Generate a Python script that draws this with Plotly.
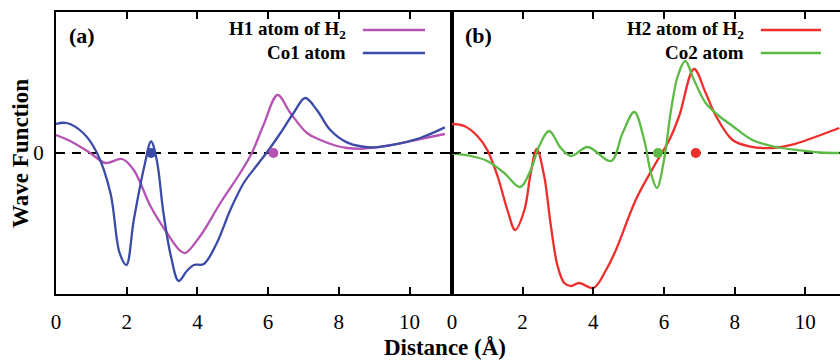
import plotly.graph_objects as go

# ---------------- data ----------------
names = ["H1 atom of H<sub>2</sub>", "Co1 atom", "H2 atom of H<sub>2</sub>", "Co2 atom"]
colors = ["#b553b3", "#3b4ba8", "#ee2e2a", "#5cba45"]

h1_x = [0, 0.4, 0.97, 1.4, 1.87, 2.2, 2.67, 3.14, 3.52, 3.66, 4.08, 4.65, 5.21, 5.54, 5.87, 6.27,
        6.63, 7.1, 7.48, 7.9, 8.23, 8.7, 9.55, 10.3, 11.0]
h1_y = [1.8, 1.2, 0.0, -1.0, -0.6, -1.7, -5.3, -8.0, -9.8, -10.0, -8.3, -5.0, -2.0, 0.0, 2.8, 5.8,
        4.0, 2.0, 1.3, 0.75, 0.5, 0.43, 0.83, 1.4, 1.9]

co1_x = [0, 0.3, 0.77, 1.16, 1.54, 1.8, 1.99, 2.2, 2.5, 2.69, 2.85, 3.04, 3.25, 3.47, 3.7, 3.9,
         4.18, 4.55, 4.93, 5.31, 5.69, 6.02, 6.35, 6.72, 7.05, 7.38, 7.76, 8.23, 8.89, 9.55,
         10.3, 11.0]
co1_y = [2.9, 3.0, 2.0, 0.0, -4.0, -10.0, -11.2, -6.7, -1.3, 1.15, -0.7, -6.0, -10.3, -12.8, -11.8,
         -11.2, -11.1, -9.0, -5.7, -3.0, -1.2, 0.33, 2.0, 4.0, 5.5, 4.3, 2.3, 1.06, 0.56, 0.83,
         1.5, 2.56]

h2_x = [0, 0.35, 0.72, 1.0, 1.29, 1.57, 1.79, 2.05, 2.23, 2.4, 2.61, 2.8, 2.99, 3.18, 3.37, 3.6,
        4.0, 4.36, 4.64, 5.2, 5.77, 6.15, 6.43, 6.85, 7.18, 7.47, 7.94, 8.41, 9.07, 9.63, 10.2,
        10.96]
h2_y = [2.9, 2.7, 1.7, 0.3, -2.3, -5.7, -7.7, -5.7, -2.0, 0.4, -2.3, -7.3, -11.3, -13.0, -13.3,
        -13.0, -13.5, -11.7, -9.7, -4.7, -1.0, 1.3, 3.7, 8.4, 6.0, 3.7, 1.3, 0.67, 0.5, 0.83, 1.5,
        2.5]

co2_x = [0, 0.54, 1.0, 1.48, 1.93, 2.23, 2.47, 2.75, 3.08, 3.37, 3.84, 4.5, 4.83, 5.16, 5.44,
         5.63, 5.8, 6.0, 6.2, 6.39, 6.6, 6.85, 7.18, 7.56, 7.94, 8.5, 9.17, 9.82, 10.4, 10.96]
co2_y = [-0.07, -0.3, -0.8, -2.0, -3.4, -1.7, 0.7, 2.2, 0.5, -0.3, 0.6, -0.8, 2.0, 4.1, 1.3,
         -2.0, -3.5, -0.7, 4.3, 7.7, 9.2, 7.3, 5.0, 3.7, 2.7, 1.3, 0.6, 0.27, 0.05, 0.0]

# atom positions (dots on the zero line)
dot_x_a = [2.69, 6.15]
dot_x_b = [5.83, 6.9]
dot_y = [0, 0]

xticks = [0, 2, 4, 6, 8, 10]

# ---------------- figure ----------------
FONT = "Liberation Serif"
fig = go.Figure()

series = [(h1_x, h1_y, 0, "x", "y"), (co1_x, co1_y, 1, "x", "y"),
          (h2_x, h2_y, 2, "x2", "y2"), (co2_x, co2_y, 3, "x2", "y2")]
for xs, ys, i, xa, ya in series:
    fig.add_trace(go.Scatter(x=xs, y=ys, mode="lines", name=names[i], xaxis=xa, yaxis=ya,
                             line=dict(color=colors[i], width=2.3, shape="spline", smoothing=1.0),
                             showlegend=False))

fig.add_trace(go.Scatter(x=dot_x_a, y=dot_y, mode="markers", xaxis="x", yaxis="y",
                         marker=dict(size=10, color=[colors[1], colors[0]]), showlegend=False))
fig.add_trace(go.Scatter(x=dot_x_b, y=dot_y, mode="markers", xaxis="x2", yaxis="y2",
                         marker=dict(size=10, color=[colors[3], colors[2]]), showlegend=False))

# dashed zero lines
for xr, yr in [("x domain", "y"), ("x2 domain", "y2")]:
    fig.add_shape(type="line", xref=xr, yref=yr, x0=0, x1=1, y0=0, y1=0,
                  line=dict(color="black", width=2, dash="9px,7px"), layer="below")

# legends (text left, line right)
leg = [("x domain", "y domain", 0, 0.737, 0.775, 0.932, 0.936),
       ("x domain", "y domain", 1, 0.737, 0.775, 0.932, 0.855),
       ("x2 domain", "y2 domain", 2, 0.758, 0.796, 0.951, 0.936),
       ("x2 domain", "y2 domain", 3, 0.758, 0.796, 0.951, 0.855)]
for xr, yr, i, tx, l0, l1, yy in leg:
    fig.add_annotation(xref=xr, yref=yr, x=tx, y=yy, text="<b>%s</b>" % names[i],
                       showarrow=False, xanchor="right", yanchor="middle",
                       font=dict(family=FONT, size=19, color="black"))
    fig.add_shape(type="line", xref=xr, yref=yr, x0=l0, x1=l1, y0=yy, y1=yy,
                  line=dict(color=colors[i], width=2.5))

fig.add_annotation(xref="x domain", yref="y domain", x=0.028, y=0.915, text="<b>(a)</b>",
                   showarrow=False, xanchor="left", yanchor="middle",
                   font=dict(family=FONT, size=22, color="black"))
fig.add_annotation(xref="x2 domain", yref="y2 domain", x=0.028, y=0.915, text="<b>(b)</b>",
                   showarrow=False, xanchor="left", yanchor="middle",
                   font=dict(family=FONT, size=22, color="black"))

# axis titles
fig.add_annotation(xref="paper", yref="paper", x=-0.046, y=0.5, text="<b>Wave Function</b>",
                   textangle=-90, showarrow=False, xanchor="center", yanchor="middle",
                   font=dict(family=FONT, size=23, color="black"))
fig.add_annotation(xref="paper", yref="paper", x=0.496, y=-0.191, text="<b>Distance (Å)</b>",
                   showarrow=False, xanchor="center", yanchor="middle",
                   font=dict(family=FONT, size=23, color="black"))

axis_common = dict(showgrid=False, zeroline=False, showline=True, linecolor="black", linewidth=2,
                   ticks="inside", ticklen=7, tickwidth=1.5, tickcolor="black",
                   tickfont=dict(family=FONT, size=21, color="black"))

fig.update_layout(
    width=840, height=360,
    margin=dict(l=56, r=0, t=12, b=66),
    paper_bgcolor="white", plot_bgcolor="white",
    showlegend=False,
    xaxis=dict(domain=[0, 0.505], range=[0, 11.2], tickvals=xticks, mirror="ticks",
               ticklabelstandoff=8, **axis_common),
    xaxis2=dict(domain=[0.505, 1], range=[0, 10.98], tickvals=xticks, mirror="ticks",
                ticklabelstandoff=8, anchor="y2", **axis_common),
    yaxis=dict(range=[-14.1, 14.1], tickvals=[0], ticktext=["0"], mirror="ticks",
               ticklabelstandoff=6, **axis_common),
    yaxis2=dict(range=[-14.1, 14.1], tickvals=[0], showticklabels=False, anchor="x2",
                **axis_common),
)

# remove the default page margin so the 840x360 figure fills the window exactly
fig.write_html("out.html", config={"displayModeBar": False},
               post_script="document.body.style.margin='0';document.body.style.overflow='hidden';")
